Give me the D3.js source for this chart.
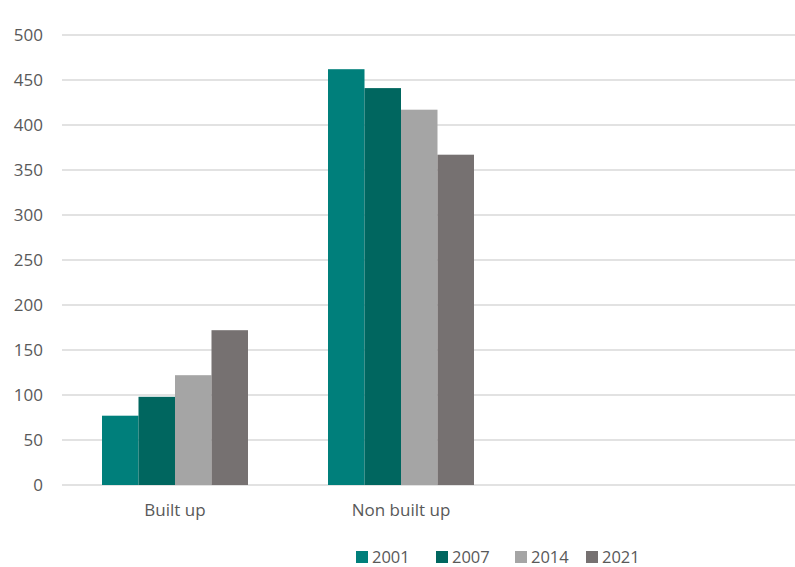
<!DOCTYPE html>
<html>
<head>
<meta charset="utf-8">
<script src="https://cdn.jsdelivr.net/npm/d3@7"></script>
<style>
  html, body { margin: 0; padding: 0; background: #fff; }
  svg { display: block; }
  text { font-family: "Open Sans", "Noto Sans", sans-serif; fill: #595959; }
</style>
</head>
<body>
<script>
// Land cover area by class and survey year
const categories = ["Built up", "Non built up", ""];
const years = ["2001", "2007", "2014", "2021"];
const builtUp = [77, 98, 122, 172];
const nonBuiltUp = [462, 441, 417, 367];
const yTicks = [0, 50, 100, 150, 200, 250, 300, 350, 400, 450, 500];
const colors = ["#007f7b", "#00665f", "#a5a5a5", "#767171"];

const seriesByCategory = [builtUp, nonBuiltUp, []];

const W = 795, H = 567;
const svg = d3.select("body").append("svg").attr("width", W).attr("height", H);

const plot = { left: 62, right: 795, top: 35, bottom: 485 };

const y = d3.scaleLinear().domain([0, 500]).range([plot.bottom, plot.top]);
const x0 = d3.scaleBand().domain(categories)
  .range([plot.left, plot.left + 226 * 3]).paddingInner(0.354).paddingOuter(0.177);
const x1 = d3.scaleBand().domain(years).range([0, x0.bandwidth()]);

// Horizontal gridlines
svg.append("g").selectAll("line").data(yTicks).join("line")
  .attr("x1", plot.left).attr("x2", plot.right)
  .attr("y1", d => y(d)).attr("y2", d => y(d))
  .attr("stroke", "#d9d9d9").attr("stroke-width", 1.5);

// Y axis labels
const yAxis = d3.axisLeft(y).tickValues(yTicks).tickSize(0).tickPadding(0);
const gy = svg.append("g").attr("transform", `translate(43,0)`).call(yAxis);
gy.select(".domain").remove();
gy.selectAll("text").attr("font-size", 17).attr("fill", "#555")
  .style("font-family", '"Open Sans", sans-serif');

// Bars
const groups = svg.append("g").selectAll("g").data(categories).join("g")
  .attr("transform", d => `translate(${x0(d)},0)`);
groups.selectAll("rect")
  .data((c, i) => seriesByCategory[i].map((v, j) => ({ year: years[j], value: v, idx: j })))
  .join("rect")
  .attr("x", d => x1(d.year))
  .attr("width", x1.bandwidth())
  .attr("y", d => y(d.value))
  .attr("height", d => y(0) - y(d.value))
  .attr("fill", d => colors[d.idx]);

// X axis category labels
const xAxis = d3.axisBottom(x0).tickSize(0).tickPadding(0);
const gx = svg.append("g").attr("transform", `translate(0,${plot.bottom + 19})`).call(xAxis);
gx.select(".domain").remove();
gx.selectAll("text").attr("font-size", 17).attr("fill", "#555")
  .attr("dy", "0.71em")
  .style("font-family", '"Open Sans", sans-serif');

// Legend
const legendX = [356, 436, 515, 586];
const legend = svg.append("g").selectAll("g").data(years).join("g")
  .attr("transform", (d, i) => `translate(${legendX[i]},551)`);
legend.append("rect").attr("width", 12).attr("height", 12)
  .attr("fill", (d, i) => colors[i]);
legend.append("text").attr("x", 16).attr("y", 11.5)
  .attr("font-size", 16.5).attr("fill", "#555").text(d => d);
</script>
</body>
</html>
